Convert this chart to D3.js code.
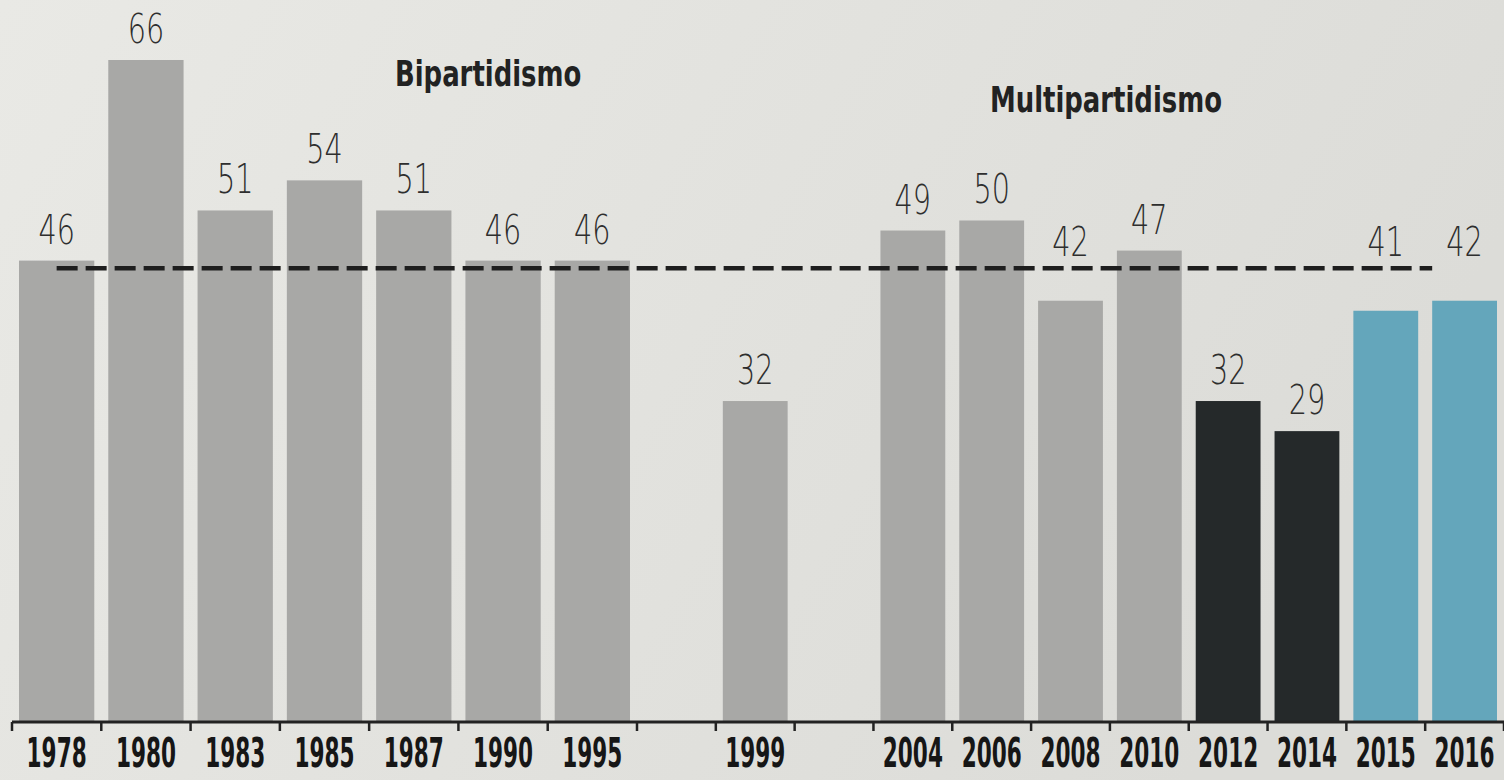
<!DOCTYPE html>
<meta charset="utf-8">
<style>
body { margin: 0; background: #e4e4e0; }
svg { display: block; }
.val { font-family: "DejaVu Sans", sans-serif; font-size: 41px; font-weight: 200; fill: #2e2e2e; text-anchor: middle; }
.year { font-family: "DejaVu Sans Condensed", "DejaVu Sans", sans-serif; font-size: 40px; font-weight: bold; fill: #161616; text-anchor: middle; }
.title { font-family: "DejaVu Sans Condensed", "DejaVu Sans", sans-serif; font-size: 36px; font-weight: bold; fill: #222; }
.avg { fill: none; stroke: #1e1e1e; stroke-width: 4.5px; stroke-dasharray: 21 8; }
.axis-line { stroke: #222; stroke-width: 3px; }
.tick { stroke: #222; stroke-width: 2.5px; }
</style>
<body>
<script src="https://d3js.org/d3.v7.min.js"></script>
<script>

var width = 1504,
    height = 780;

// slots along the axis; "" = empty slot
var slots = ["1978", "1980", "1983", "1985", "1987", "1990", "1995", "", "1999", "",
             "2004", "2006", "2008", "2010", "2012", "2014", "2015", "2016"];
var years = ["1978", "1980", "1983", "1985", "1987", "1990", "1995", "1999",
             "2004", "2006", "2008", "2010", "2012", "2014", "2015", "2016"];
var values = [46, 66, 51, 54, 51, 46, 46, 32, 49, 50, 42, 47, 32, 29, 41, 42];
var groups = ["g", "g", "g", "g", "g", "g", "g", "g", "g", "g", "g", "g", "d", "d", "b", "b"];
var titles = ["Bipartidismo", "Multipartidismo"];

var color = d3.scaleOrdinal()
    .domain(["g", "d", "b"])
    .range(["#a8a8a6", "#25292a", "#64a6bb"]);

var data = years.map(function(y, i) {
  return {year: y, value: values[i], group: groups[i], slot: slots.indexOf(y)};
});

var avg = d3.mean(values);

// slot index -> pixel (the slots on the left come out a bit wider)
var x = d3.scaleLinear()
    .domain([0, 7, slots.length])
    .range([12, 637, 1504]);

var y = d3.scaleLinear()
    .domain([0, 66])
    .range([722, 60]);

var pad = 7;

function mid(d) { return (x(d.slot) + x(d.slot + 1)) / 2; }

var svg = d3.select("body").append("svg")
    .attr("width", width)
    .attr("height", height);

var grad = svg.append("defs").append("linearGradient")
    .attr("id", "bg")
    .attr("x1", "0").attr("y1", "0")
    .attr("x2", "1").attr("y2", "0.3");
grad.append("stop").attr("offset", "0").attr("stop-color", "#e9e9e5");
grad.append("stop").attr("offset", "1").attr("stop-color", "#dcdcd8");

svg.append("rect")
    .attr("width", width)
    .attr("height", height)
    .attr("fill", "url(#bg)");

svg.selectAll(".bar")
    .data(data)
  .enter().append("rect")
    .attr("class", "bar")
    .attr("x", function(d) { return x(d.slot) + pad; })
    .attr("width", function(d) { return x(d.slot + 1) - x(d.slot) - 2 * pad; })
    .attr("y", function(d) { return y(d.value); })
    .attr("height", function(d) { return y(0) - y(d.value); })
    .attr("fill", function(d) { return color(d.group); });

// average line
var first = data[0], last = data[data.length - 1];
svg.append("line")
    .attr("class", "avg")
    .attr("x1", mid(first))
    .attr("x2", x(last.slot) + pad)
    .attr("y1", y(avg))
    .attr("y2", y(avg));

// value labels: sit above the bar, or above the dashed line if it would cross them
function labelY(d) {
  var base = y(d.value) - 17, ly = y(avg);
  if (base + 4 > ly && base - 32 < ly) base = ly - 12;
  return base;
}

svg.selectAll(".val")
    .data(data)
  .enter().append("text")
    .attr("class", "val")
    .attr("transform", function(d) { return "translate(" + mid(d) + "," + labelY(d) + ") scale(0.7,1)"; })
    .text(function(d) { return d.value; });

// axis
var axis = svg.append("g");
axis.append("line")
    .attr("class", "axis-line")
    .attr("x1", x(0)).attr("x2", x(slots.length))
    .attr("y1", y(0)).attr("y2", y(0));

axis.selectAll(".tick")
    .data(d3.range(slots.length + 1))
  .enter().append("line")
    .attr("class", "tick")
    .attr("x1", function(i) { return x(i); })
    .attr("x2", function(i) { return x(i); })
    .attr("y1", y(0))
    .attr("y2", y(0) + 9);

axis.selectAll(".year")
    .data(data)
  .enter().append("text")
    .attr("class", "year")
    .attr("transform", function(d) { return "translate(" + mid(d) + ",767) scale(0.6,1)"; })
    .text(function(d) { return d.year; });

svg.append("text")
    .attr("class", "title")
    .attr("transform", "translate(395,86) scale(0.8,1)")
    .text(titles[0]);

svg.append("text")
    .attr("class", "title")
    .attr("transform", "translate(990,112) scale(0.8,1)")
    .text(titles[1]);

</script>
